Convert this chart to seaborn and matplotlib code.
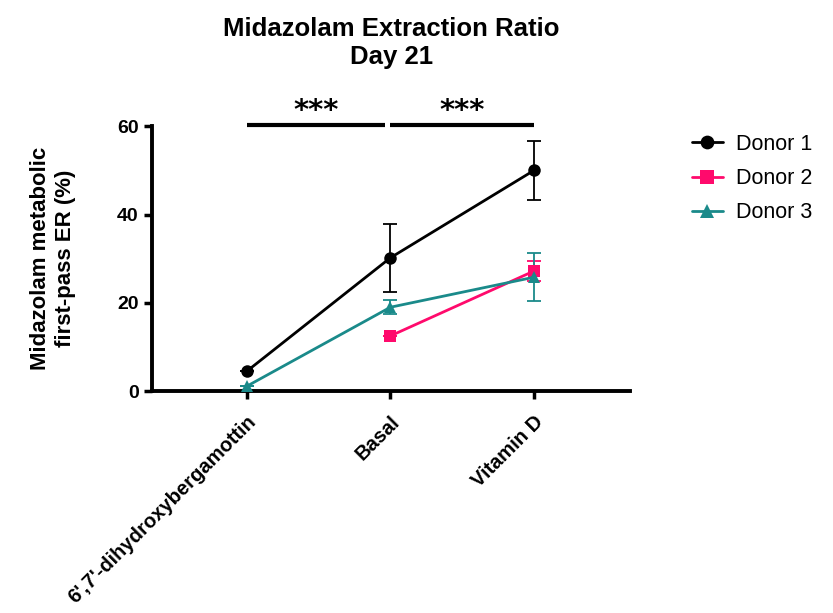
import matplotlib
matplotlib.use('Agg')
import matplotlib.pyplot as plt
import numpy as np
import pandas as pd
import seaborn as sns

# data
conditions = ["6',7'-dihydroxybergamottin", "Basal", "Vitamin D"]
donors = ["Donor 1", "Donor 2", "Donor 3"]
donor1_mean = [4.5, 30.2, 50.0]
donor1_sd = [0.0, 7.7, 6.6]
donor2_mean = [np.nan, 12.5, 27.2]
donor2_sd = [np.nan, 0.0, 2.2]
donor3_mean = [1.1, 19.0, 25.8]
donor3_sd = [0.0, 1.6, 5.4]

colors = {"Donor 1": "#000000", "Donor 2": "#ff0a6c", "Donor 3": "#1a8a8a"}
markers = {"Donor 1": "o", "Donor 2": "s", "Donor 3": "^"}

rows = []
for d, m, s in zip(donors, [donor1_mean, donor2_mean, donor3_mean],
                   [donor1_sd, donor2_sd, donor3_sd]):
    for i, c in enumerate(conditions):
        rows.append({"donor": d, "pos": i, "condition": c, "er": m[i], "sd": s[i]})
df = pd.DataFrame(rows)

sns.set_style("ticks", {"axes.edgecolor": "black", "text.color": "black",
                        "xtick.color": "black", "ytick.color": "black",
                        "axes.labelcolor": "black"})
plt.rcParams['font.family'] = ['Liberation Sans', 'DejaVu Sans']

fig = plt.figure(figsize=(8.33, 6.13), dpi=100)
ax = fig.add_axes([0.1825, 0.362, 0.574, 0.432])

# error bars first, so the markers sit on top
for d in donors:
    sub = df[(df.donor == d) & df.er.notna()]
    ax.errorbar(sub.pos, sub.er, yerr=sub.sd, fmt='none', ecolor=colors[d],
                elinewidth=1.3, capsize=5, capthick=1.3, zorder=2)

sns.lineplot(data=df.dropna(subset=["er"]), x="pos", y="er", hue="donor",
             style="donor", markers=markers, dashes=False, palette=colors,
             markersize=9, linewidth=2, markeredgewidth=0, ax=ax,
             estimator=None, sort=True, zorder=3)

ax.set_xlim(-0.66, 2.67)
ax.set_ylim(0, 60)
ax.set_yticks([0, 20, 40, 60])
ax.set_xticks(range(len(conditions)))
ax.set_xticklabels(conditions, rotation=45, ha='right', rotation_mode='anchor',
                   fontsize=14.5, fontweight='bold')
for lab in ax.get_yticklabels():
    lab.set_fontsize(14)
    lab.set_fontweight('bold')
ax.tick_params(width=2.5, length=6, color='black')
ax.tick_params(axis='x', pad=9)
for sp in ["left", "bottom"]:
    ax.spines[sp].set_linewidth(2.8)
sns.despine(ax=ax)
ax.set_xlabel("")
ax.set_ylabel("Midazolam metabolic\nfirst-pass ER (%)", fontsize=16,
              fontweight='bold', labelpad=30)

ax.set_title("Midazolam Extraction Ratio\nDay 21", fontsize=18.5,
             fontweight='bold', pad=45)

# significance bars
ax.plot([0, 0.96], [60.3, 60.3], color='black', lw=3, clip_on=False,
        solid_capstyle='butt')
ax.plot([1.0, 2.0], [60.3, 60.3], color='black', lw=3, clip_on=False,
        solid_capstyle='butt')
for xs in [0.48, 1.5]:
    ax.text(xs, 61.6, "***", ha='center', va='baseline', fontsize=21,
            fontweight='bold', family='DejaVu Sans')

ax.legend(title=None, frameon=False, loc='upper left',
          bbox_to_anchor=(1.088, 1.045), fontsize=15.5, handlelength=1.45,
          handletextpad=0.6, labelspacing=0.62, markerscale=1.1)

plt.savefig('out.png', dpi=100)
